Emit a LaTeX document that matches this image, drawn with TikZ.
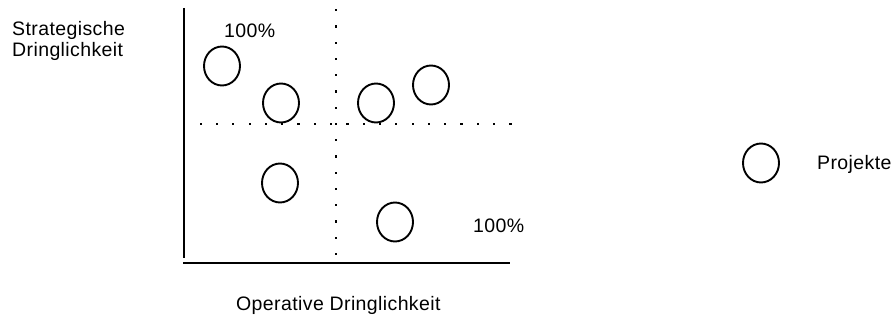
\documentclass[tikz,border=0pt]{standalone}
\usepackage{fontspec}
\setmainfont{Liberation Sans}[LetterSpace=2.0]
\usetikzlibrary{shapes.geometric}
\tikzset{
  proj/.style={draw, ellipse, line width=1.9pt, minimum width=36pt, minimum height=39pt, inner sep=0pt},
  axis/.style={line width=2pt},
  lbl/.style={anchor=base west, inner sep=0pt, font=\fontsize{19.5}{21.3}\selectfont},
  dotmark/.style={fill=black, inner sep=0pt, minimum size=2.2pt, rectangle}
}
\begin{document}
\begin{tikzpicture}[x=1pt, y=-1pt]
\useasboundingbox (0,0) rectangle (891,320);
% axes
\coordinate (ytop) at (184,8);
\coordinate (orig) at (184,263);
\coordinate (xend) at (510,263);
\draw[axis] (ytop) -- (184,258);
\draw[axis] (183,263) -- (xend);
% dotted lines
\foreach \i in {0,...,19} {
  \node[dotmark] at ({200.7+16.3*\i},124) {};
}
\foreach \i in {0,...,15} {
  \node[dotmark] at (336,{254-16.25*\i}) {};
}
% projects
\node[proj] (p1) at (222,66) {};
\node[proj] (p2) at (281,103) {};
\node[proj] (p3) at (376,103) {};
\node[proj] (p4) at (431,85) {};
\node[proj] (p5) at (280,183) {};
\node[proj] (p6) at (395,222) {};
\node[proj] (leg) at (761,163) {};
% labels
\node[lbl] (s1) at (12,36) {Strategische};
\node[lbl] (s2) at (12,57) {Dringlichkeit};
\node[lbl] (t100) at (224,38) {100\%};
\node[lbl] (b100) at (473,233) {100\%};
\node[lbl] (legt) at (817,170) {Projekte};
\node[lbl] (xl) at (236,310) {Operative Dringlichkeit};
\end{tikzpicture}
\end{document}
